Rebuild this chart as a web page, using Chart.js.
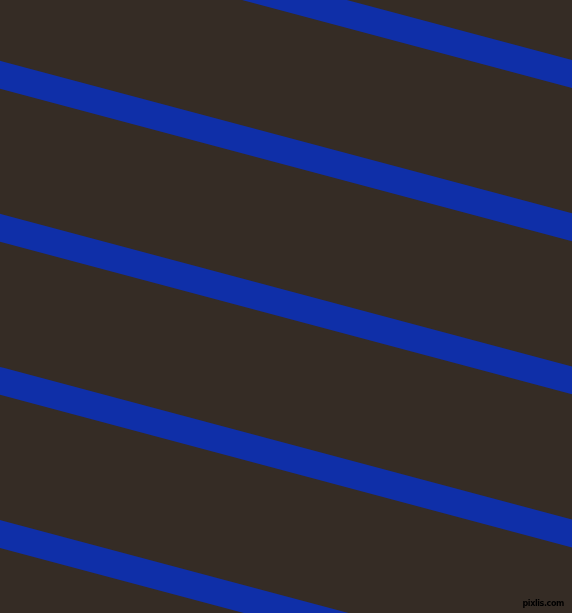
<!DOCTYPE html>
<html>
<head>
<meta charset="utf-8">
<script src="https://cdn.jsdelivr.net/npm/chart.js@4/dist/chart.umd.min.js"></script>
<style>
  html, body { margin: 0; padding: 0; background: #352c25; overflow: hidden; }
  #wrap { position: relative; width: 572px; height: 613px; }
  #mark {
    position: absolute; right: 8px; bottom: 5px;
    font: bold 8px "DejaVu Sans", sans-serif; color: #000;
    letter-spacing: -0.4px;
  }
</style>
</head>
<body>
<div id="wrap">
  <canvas id="chart" width="572" height="613"></canvas>
  <div id="mark">pixlis.com</div>
</div>
<script>
// stripe centre lines: y at the left edge (x=0) and at the right edge (x=572)
const stripeX = [0, 572];
const stripeLeftY = [-78.5, 74.7, 227.8, 380.9, 534];
const stripeRightY = [74, 227.3, 380.4, 533.5, 686.6];

const blue = "#0f2fa8";

const datasets = stripeLeftY.map((y0, i) => ({
  data: [
    { x: stripeX[0], y: y0 },
    { x: stripeX[1], y: stripeRightY[i] }
  ],
  borderColor: blue,
  borderWidth: 27,
  borderCapStyle: "square",
  clip: 0,
  pointRadius: 0,
  showLine: true,
  fill: false
}));

new Chart(document.getElementById("chart"), {
  type: "scatter",
  data: { datasets },
  options: {
    responsive: false,
    animation: false,
    layout: { padding: 0 },
    plugins: { legend: { display: false }, tooltip: { enabled: false } },
    scales: {
      x: { type: "linear", min: 0, max: 572, display: false },
      y: { type: "linear", min: 0, max: 613, reverse: true, display: false }
    }
  }
});
</script>
</body>
</html>
